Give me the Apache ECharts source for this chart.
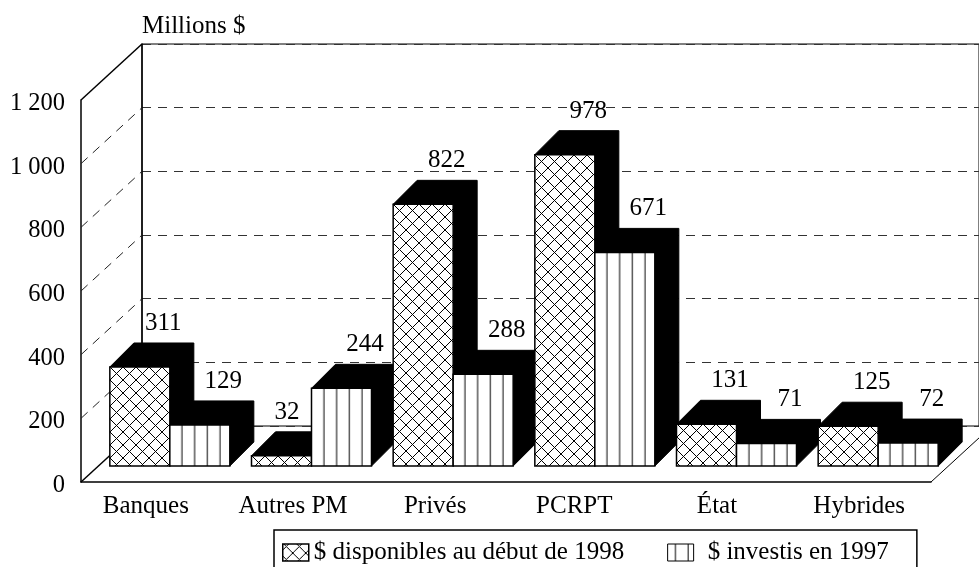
<!DOCTYPE html>
<html>
<head>
<meta charset="utf-8">
<script src="https://cdn.jsdelivr.net/npm/echarts@6/dist/echarts.min.js"></script>
<style>html,body{margin:0;padding:0;background:#fff}#c{width:979px;height:567px}</style>
</head>
<body>
<div id="c"></div>
<script>
const categories = ['Banques', 'Autres PM', 'Privés', 'PCRPT', 'État', 'Hybrides'];
const available1998 = [311, 32, 822, 978, 131, 125];
const invested1997 = [129, 244, 288, 671, 71, 72];
const yTicks = [0, 200, 400, 600, 800, 1000, 1200];
const seriesNames = ['$ disponibles au début de 1998', '$ investis en 1997'];

const FONT = '"Liberation Serif", "Times New Roman", serif';
const FONT_SIZE = 25;
const WALL_DX = 61, WALL_DY = -56;     // front plane to back wall
const BAR_DX = 18, BAR_DY = -16;       // front plane to bar front faces
const BAR_DEPTH = 24, BAR_W = 60;
const GRID_DASH = [9, 7];
const CATEGORY_LABEL_NUDGE = [12, 1, 0, 5, 3, 2];   // extra right padding per category label

function crossTile() {
  const c = document.createElement('canvas');
  c.width = c.height = 13;
  const g = c.getContext('2d');
  g.fillStyle = '#fff'; g.fillRect(0, 0, 13, 13);
  g.strokeStyle = '#000'; g.lineWidth = 1;
  g.beginPath();
  g.moveTo(0, 0); g.lineTo(13, 13);
  g.moveTo(13, 0); g.lineTo(0, 13);
  g.stroke();
  return c;
}
function stripeTile() {
  const c = document.createElement('canvas');
  c.width = 13; c.height = 4;
  const g = c.getContext('2d');
  g.fillStyle = '#fff'; g.fillRect(0, 0, 13, 4);
  g.fillStyle = '#555'; g.fillRect(11.5, 0, 1.5, 4);
  return c;
}
const tiles = [crossTile(), stripeTile()];
const hatch = (s, x, y) => ({
  image: tiles[s], repeat: 'repeat',
  x: Math.round(x), y: Math.round(y),
  scaleX: s ? 12.7 / 13 : 1
});

// One 3D box: black top and side faces behind a hatched front face.
function boxRenderer(seriesIdx) {
  return function (params, api) {
    const i = api.value(0), v = api.value(1);
    const base = api.coord([i, 0]), top = api.coord([i, v]);
    const x0 = base[0] + BAR_DX - BAR_W + seriesIdx * BAR_W;
    const x1 = x0 + BAR_W;
    const yb = base[1] + BAR_DY, yt = top[1] + BAR_DY;
    const d = BAR_DEPTH;
    const order = i * 10 + seriesIdx * 2;
    const shiftLabel = v === 32 ? -18 : 0;
    return {
      type: 'group',
      children: [
        { type: 'polygon', z2: order,
          shape: { points: [[x0, yt], [x0 + d, yt - d], [x1 + d, yt - d], [x1 + d, yb - d], [x1, yb], [x1, yt]] },
          style: { fill: '#000', stroke: '#000', lineWidth: 1 } },
        { type: 'rect', z2: order + 1,
          shape: { x: x0, y: yt, width: BAR_W, height: yb - yt },
          style: { fill: hatch(seriesIdx, x0, yt), stroke: '#000', lineWidth: 1.5 } },
        { type: 'text', z2: 1000,
          style: {
            x: x0 + d + BAR_W / 2 + shiftLabel - 0.5, y: yt - d - 7,
            text: String(v), fill: '#000', font: FONT_SIZE + 'px ' + FONT,
            align: 'center', verticalAlign: 'bottom'
          } }
      ]
    };
  };
}

// Left wall and floor edges running from the front plane back to the wall.
function wallRenderer(params, api) {
  const v = api.value(0);
  const p = api.coord([0, v]);
  const halfBand = api.size([1, 0])[0] / 2;
  const left = p[0] - halfBand;
  const solid = v === 0 || v === yTicks[yTicks.length - 1];
  const children = [{
    type: 'line',
    shape: { x1: left, y1: p[1], x2: left + WALL_DX, y2: p[1] + WALL_DY },
    style: { stroke: solid ? '#000' : '#222', lineWidth: solid ? 1.5 : 1, lineDash: solid ? null : GRID_DASH }
  }];
  if (v === 0) {
    const right = api.coord([categories.length - 1, 0])[0] + halfBand;
    children.push({
      type: 'line',
      shape: { x1: right, y1: p[1], x2: right + WALL_DX, y2: p[1] + WALL_DY },
      style: { stroke: '#000', lineWidth: 1 }
    });
  }
  return { type: 'group', children };
}

const textStyle = { fontFamily: FONT, fontSize: FONT_SIZE, color: '#000' };
const chart = echarts.init(document.getElementById('c'), null, { renderer: 'canvas' });

function rows(values) { return values.map((v, i) => [i, v]); }

chart.setOption({
  animation: false,
  backgroundColor: '#fff',
  grid: [
    // front plane
    { left: 81, top: 100, width: 850, height: 382 },
    // back wall
    { left: 142, top: 44, width: 850, height: 382, show: true, borderColor: '#000', borderWidth: 1, backgroundColor: 'transparent' },
    // carries the value scale's labels, sitting slightly below the front plane's ticks
    { left: 81, top: 103.5, width: 850, height: 382 }
  ],
  xAxis: [
    { type: 'category', gridIndex: 0,
      data: categories.map((c, i) => ({ value: c, textStyle: { padding: [0, CATEGORY_LABEL_NUDGE[i], 0, 0] } })),
      axisLine: { lineStyle: { color: '#000', width: 1.5 } }, axisTick: { show: false },
      axisLabel: { ...textStyle, margin: 12, interval: 0 } },
    { type: 'category', gridIndex: 1, data: categories,
      axisLine: { show: false }, axisTick: { show: false }, axisLabel: { show: false } },
    { type: 'category', gridIndex: 2, data: categories, show: false }
  ],
  yAxis: [
    { type: 'value', gridIndex: 0, min: 0, max: 1200, interval: 200,
      axisLine: { show: true, lineStyle: { color: '#000', width: 1.5 } }, axisTick: { show: false },
      splitLine: { show: false }, axisLabel: { show: false } },
    { type: 'value', gridIndex: 1, min: 0, max: 1200, interval: 200,
      name: 'Millions $', nameLocation: 'end', nameGap: 5,
      nameTextStyle: { ...textStyle, align: 'left', verticalAlign: 'bottom' },
      axisLine: { show: true, lineStyle: { color: '#000', width: 1.5 } }, axisTick: { show: false },
      axisLabel: { show: false },
      splitLine: { show: true, lineStyle: { color: '#333', width: 1, type: GRID_DASH } } },
    { type: 'value', gridIndex: 2, min: 0, max: 1200, interval: 200,
      axisLine: { show: false }, axisTick: { show: false }, splitLine: { show: false },
      axisLabel: { ...textStyle, fontSize: 24.5, margin: 16,
        formatter: v => String(v).replace(/\B(?=(\d{3})+$)/g, ' ') } }
  ],
  legend: {
    left: 274, top: 530,
    padding: [10, 28, 20, 8],
    borderColor: '#000', borderWidth: 1.5,
    itemWidth: 26, itemHeight: 17, itemGap: 43,
    selectedMode: false,
    textStyle: { ...textStyle },
    data: [
      { name: seriesNames[0], icon: 'rect',
        itemStyle: { color: hatch(0, 283, 542), borderColor: '#000', borderWidth: 1.5 } },
      { name: seriesNames[1], icon: 'rect', textStyle: { ...textStyle, padding: [0, 0, 0, 9] },
        itemStyle: { color: hatch(1, 669, 540), borderColor: '#000', borderWidth: 1 } }
    ]
  },
  series: [
    { type: 'custom', name: 'wall', xAxisIndex: 0, yAxisIndex: 0, z: 1, clip: false,
      data: yTicks.map(t => [t]), encode: { y: 0 }, renderItem: wallRenderer, silent: true },
    { type: 'custom', name: seriesNames[0], xAxisIndex: 0, yAxisIndex: 0, z: 5, clip: false,
      data: rows(available1998), encode: { x: 0, y: 1 }, renderItem: boxRenderer(0),
      itemStyle: { color: '#000' } },
    { type: 'custom', name: seriesNames[1], xAxisIndex: 0, yAxisIndex: 0, z: 5, clip: false,
      data: rows(invested1997), encode: { x: 0, y: 1 }, renderItem: boxRenderer(1),
      itemStyle: { color: '#000' } }
  ]
});
</script>
</body>
</html>
